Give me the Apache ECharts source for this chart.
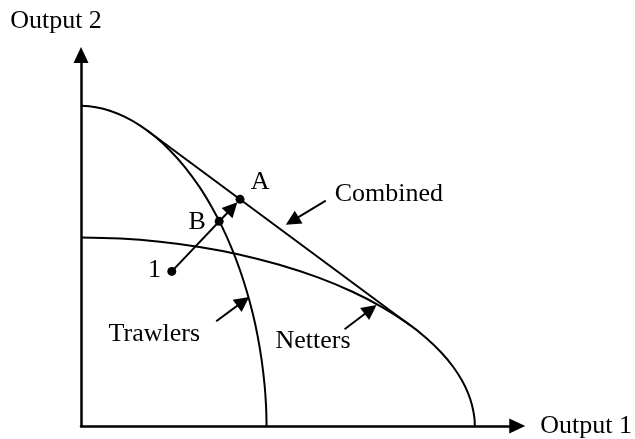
<!DOCTYPE html>
<html>
<head>
<meta charset="utf-8">
<script src="https://cdn.jsdelivr.net/npm/echarts@6/dist/echarts.min.js"></script>
<style>
html,body{margin:0;padding:0;background:#fff;}
#chart{width:635px;height:439px;}
</style>
</head>
<body>
<div id="chart"></div>
<script>
// Production possibility frontiers (arbitrary units 0-100 on each axis)
const trawlers = [
  [0, 86.29], [3.39, 85.91], [6.79, 84.89], [10.18, 83.23], [13.57, 80.97],
  [16.97, 78.01], [20.36, 74.33], [23.76, 69.87], [27.15, 64.44], [29.86, 59.22],
  [32.35, 53.66], [34.62, 47.69], [36.43, 42.04], [38.01, 36.24], [39.37, 30.30],
  [40.50, 24.17], [41.40, 17.82], [42.08, 11.05], [42.42, 5.32], [42.53, 0]
];
const netters = [
  [0, 50.81], [9.05, 50.51], [18.10, 49.65], [27.15, 48.25], [36.20, 46.24],
  [45.25, 43.52], [54.30, 40.05], [62.22, 36.18], [69.00, 32.07], [74.66, 27.85],
  [79.19, 23.68], [82.58, 19.81], [85.29, 15.97], [87.33, 12.26], [88.69, 8.95],
  [89.59, 5.81], [90.16, 2.31], [90.27, 0]
];
const combined = [[15.16, 79.65], [75.34, 27.23]];

// Named points
const pointNames = ['1', 'B', 'A'];
const pointValues = [[20.81, 41.67], [31.67, 55.16], [36.45, 61.10]];

// Arrows: [from, to]
const moveArrow = [[20.81, 41.67], [34.66, 58.84]];
const trawlersArrow = [[31.0, 28.23], [37.17, 33.58]];
const nettersArrow = [[60.41, 26.08], [66.38, 31.40]];
const combinedArrow = [[56.11, 60.75], [48.42, 55.27]];

// Text labels and their anchors (left edge, vertical middle)
const labelNames = ['Combined', 'Netters', 'Trawlers', 'A', 'B', '1'];
const labelAnchors = [[58.14, 62.37], [44.57, 22.85], [6.33, 24.73], [38.91, 65.59], [24.66, 54.84], [15.38, 41.94]];

const axisNames = ['Output 1', 'Output 2'];

const FONT = '"Liberation Serif", "Times New Roman", serif';
const BLACK = '#000';

const chart = echarts.init(document.getElementById('chart'), null, {renderer: 'canvas'});

function arrowSeries(pair) {
  return {
    type: 'lines',
    coordinateSystem: 'cartesian2d',
    silent: true,
    symbol: ['none', 'triangle'],
    symbolSize: [12, 15],
    lineStyle: {color: BLACK, width: 2, opacity: 1, curveness: 0},
    data: [{coords: pair}],
    z: 5
  };
}

const option = {
  animation: false,
  backgroundColor: '#fff',
  textStyle: {fontFamily: FONT, color: BLACK},
  grid: {left: 81, right: 112, top: 55, bottom: 12, containLabel: false},
  xAxis: {
    type: 'value', min: 0, max: 100,
    name: axisNames[0], nameLocation: 'end', nameGap: 23,
    nameTextStyle: {fontFamily: FONT, fontSize: 26, color: BLACK},
    axisLine: {show: true, symbol: ['none', 'triangle'], symbolSize: [15, 16],
      lineStyle: {color: BLACK, width: 2.5}},
    axisTick: {show: false}, axisLabel: {show: false}, splitLine: {show: false}
  },
  yAxis: {
    type: 'value', min: 0, max: 100,
    name: axisNames[1], nameLocation: 'end', nameGap: 21,
    nameTextStyle: {fontFamily: FONT, fontSize: 26, color: BLACK, align: 'center', padding: [0, 50, 0, 0]},
    axisLine: {show: true, onZero: false, symbol: ['none', 'triangle'], symbolSize: [15, 16],
      lineStyle: {color: BLACK, width: 2.5}},
    axisTick: {show: false}, axisLabel: {show: false}, splitLine: {show: false}
  },
  series: [
    {
      name: 'Trawlers', type: 'line', data: trawlers, smooth: 0.4, showSymbol: false,
      lineStyle: {color: BLACK, width: 2}, silent: true, z: 3
    },
    {
      name: 'Netters', type: 'line', data: netters, smooth: 0.4, showSymbol: false,
      lineStyle: {color: BLACK, width: 2}, silent: true, z: 3
    },
    {
      name: 'Combined', type: 'line', data: combined, smooth: false, showSymbol: false,
      lineStyle: {color: BLACK, width: 2}, silent: true, z: 3
    },
    arrowSeries(moveArrow),
    arrowSeries(trawlersArrow),
    arrowSeries(nettersArrow),
    arrowSeries(combinedArrow),
    {
      type: 'scatter', symbol: 'circle', symbolSize: 9, silent: true, z: 6,
      itemStyle: {color: BLACK, opacity: 1},
      data: pointValues.map((v, i) => ({name: pointNames[i], value: v}))
    },
    {
      type: 'scatter', symbolSize: 0, silent: true, z: 7,
      itemStyle: {color: BLACK, opacity: 1},
      data: labelAnchors.map((v, i) => ({name: labelNames[i], value: v})),
      label: {
        show: true, position: 'right', distance: 0,
        formatter: p => p.name,
        fontFamily: FONT, fontSize: 26, color: BLACK
      }
    }
  ]
};
chart.setOption(option);
</script>
</body>
</html>
